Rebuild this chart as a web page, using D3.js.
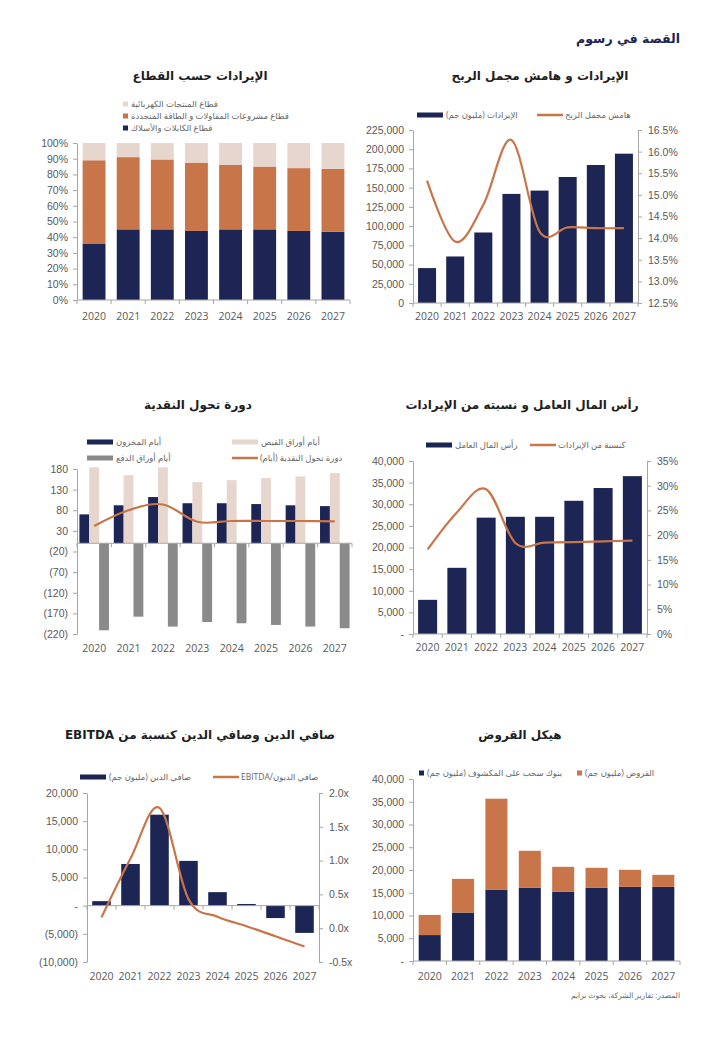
<!DOCTYPE html>
<html>
<head>
	<title>index</title>
	<meta charset="utf-8">
	<script src="https://d3js.org/d3.v7.min.js" charset="utf-8"></script>
	<style>
		body { margin:0; background:#fff; }
		svg { display:block; font-family:"Open Sans","DejaVu Sans",sans-serif; }
		.tick text { fill:#595959; font-size:10.5px; }
		.domain, .tick line { stroke:#a6a6a6; }
		.lg { fill:#666; font-size:8.5px; }
		.ttl { fill:#1f1f1f; font-size:12px; font-weight:bold; font-family:"DejaVu Sans",sans-serif; }
	</style>
</head>
<body>
<script>

	var years = ["2020","2021","2022","2023","2024","2025","2026","2027"];

	// panel 1 - revenue by sector (share)
	var segCables = [0.36,0.45,0.45,0.44,0.45,0.45,0.44,0.435];
	var segProjects = [0.53,0.46,0.445,0.435,0.41,0.40,0.40,0.40];
	var segElectric = [0.11,0.09,0.105,0.125,0.14,0.15,0.16,0.165];
	var pctTicks = [0,0.1,0.2,0.3,0.4,0.5,0.6,0.7,0.8,0.9,1];

	// panel 2 - revenue and gross margin
	var revenue = [45400,60500,91700,141900,146200,163900,179500,194200];
	var grossMargin = [15.33,13.92,14.77,16.27,14.15,14.25,14.23,14.23];
	var revTicks = [0,25000,50000,75000,100000,125000,150000,175000,200000,225000];
	var gmTicks = [12.5,13,13.5,14,14.5,15,15.5,16,16.5];

	// panel 3 - cash conversion cycle
	var invDays = [70,92,112,97,97,95,92,90];
	var recDays = [184,165,184,148,153,158,162,170];
	var payDays = [-211,-178,-202,-191,-194,-198,-202,-206];
	var cccDays = [42,80,94,52,54,54,54,53];
	var cccTicks = [180,130,80,30,-20,-70,-120,-170,-220];

	// panel 4 - working capital
	var workCap = [7900,15300,26900,27100,27100,30800,33750,36500];
	var wcPct = [17.1,24.6,29.3,18.4,18.5,18.6,18.75,18.9];
	var wcTicks = [0,5000,10000,15000,20000,25000,30000,35000,40000];
	var wcPctTicks = [0,5,10,15,20,25,30,35];

	// panel 5 - net debt
	var netDebt = [800,7400,16150,7950,2400,300,-2200,-4830];
	var ndEbitda = [0.16,1.03,1.78,0.43,0.17,0.03,-0.12,-0.27];
	var ndTicks = [-10000,-5000,0,5000,10000,15000,20000];
	var ndxTicks = [-0.5,0,0.5,1,1.5,2];

	// panel 6 - debt structure
	var overdraft = [5700,10650,15630,16070,15190,16070,16290,16290];
	var loans = [4430,7400,20040,8150,5510,4410,3750,2650];
	var debtTicks = [0,5000,10000,15000,20000,25000,30000,35000,40000];

	var navy = "#1c2553", orange = "#c8754a", beige = "#e6d6cd", gray = "#8a8a8a";

	var svg = d3.select("body").append("svg").attr("width",720).attr("height",1040);

	svg.append("text").attr("x",680).attr("y",43).attr("direction","rtl").attr("text-anchor","start")
		.attr("font-size","12.5px").attr("font-weight","bold").attr("fill",navy)
		.attr("font-family","DejaVu Sans,sans-serif").text("القصة في رسوم");

	function title(x, y, t) {
		svg.append("text").attr("class","ttl").attr("x",x).attr("y",y)
			.attr("direction","rtl").attr("text-anchor","middle").text(t);
	}

	function xBand(x0, x1, pad) {
		return d3.scaleBand().domain(years).range([x0,x1]).paddingInner(pad).paddingOuter(pad/2);
	}

	function xAxis(x, y0, labelY) {
		var g = svg.append("g");
		var r = x.range();
		g.append("line").attr("x1",r[0]).attr("x2",r[1]).attr("y1",y0).attr("y2",y0).attr("stroke","#a6a6a6");
		var edges = years.map(function(d) { return x(d) - x.step()*x.paddingInner()/2; });
		edges.push(r[1]);
		g.selectAll(".bt").data(edges).enter().append("line")
			.attr("x1",function(d){return d;}).attr("x2",function(d){return d;})
			.attr("y1",y0).attr("y2",y0+4).attr("stroke","#a6a6a6");
		g.selectAll(".xl").data(years).enter().append("text")
			.attr("x",function(d){return x(d)+x.bandwidth()/2;}).attr("y",labelY)
			.attr("text-anchor","middle").attr("fill","#595959").attr("font-size","10.5px")
			.text(function(d){return d;});
	}

	function yLeft(y, xPos, ticks, fmt) {
		svg.append("g").attr("transform","translate("+xPos+",0)")
			.call(d3.axisLeft(y).tickValues(ticks).tickFormat(fmt).tickSize(4).tickSizeOuter(0).tickPadding(5));
	}
	function yRight(y, xPos, ticks, fmt) {
		svg.append("g").attr("transform","translate("+xPos+",0)")
			.call(d3.axisRight(y).tickValues(ticks).tickFormat(fmt).tickSize(4).tickSizeOuter(0).tickPadding(6));
	}

	// legend text is rtl, anchored by its left edge
	function legText(x, y, t, fs) {
		var tx = svg.append("text").attr("class","lg").attr("x",x).attr("y",y)
			.attr("direction","rtl").attr("text-anchor","end").text(t);
		if (fs) tx.attr("font-size",fs);
	}
	function legRect(x, y, w, h, col, t, fs) {
		svg.append("rect").attr("x",x).attr("y",y-h/2).attr("width",w).attr("height",h).attr("fill",col);
		legText(x+w+3, y+3, t, fs);
	}
	function legLine(x, y, w, col, t) {
		svg.append("line").attr("x1",x).attr("x2",x+w).attr("y1",y).attr("y2",y)
			.attr("stroke",col).attr("stroke-width",2.5);
		legText(x+w+2, y+3, t);
	}

	function smoothLine(x, y, vals) {
		var line = d3.line().curve(d3.curveCardinal.tension(0))
			.x(function(d,i){ return x(years[i]) + x.bandwidth()/2; })
			.y(function(d){ return y(d); });
		svg.append("path").attr("d",line(vals)).attr("fill","none")
			.attr("stroke",orange).attr("stroke-width",2.2);
	}

	var thousands = d3.format(",");
	function dashZero(d) { return d === 0 ? "-" : (d < 0 ? "(" + thousands(-d) + ")" : thousands(d)); }

	// ---------- panel 1 ----------
	(function() {
		title(200, 80, "الإيرادات حسب القطاع");
		var x = xBand(77, 350, 0.33);
		var y = d3.scaleLinear().domain([0,1]).range([300,143]);
		var stack = years.map(function(d,i){ return {year:d, a:segCables[i], b:segProjects[i], c:segElectric[i]}; });
		var series = d3.stack().keys(["a","b","c"])(stack);
		var cols = [navy, orange, beige];
		series.forEach(function(s, k) {
			svg.selectAll(".s1"+k).data(s).enter().append("rect")
				.attr("x",function(d){return x(d.data.year);}).attr("width",x.bandwidth())
				.attr("y",function(d){return y(Math.min(d[1],1));})
				.attr("height",function(d){return y(d[0]) - y(Math.min(d[1],1));})
				.attr("fill",cols[k]);
		});
		yLeft(y, 77, pctTicks, d3.format(".0%"));
		xAxis(x, 300, 320);
		legRect(123, 104, 5, 5, beige, "قطاع المنتجات الكهربائية", "7.6px");
		legRect(123, 116, 5, 5, orange, "قطاع مشروعات المقاولات و الطاقة المتجددة", "7.6px");
		legRect(123, 128, 5, 5, navy, "قطاع الكابلات والأسلاك", "7.6px");
	})();

	// ---------- panel 2 ----------
	(function() {
		title(540, 80, "الإيرادات و هامش مجمل الربح");
		var x = xBand(413, 638, 0.36);
		var y = d3.scaleLinear().domain([0,225000]).range([303,130]);
		var y2 = d3.scaleLinear().domain([12.5,16.5]).range([303,130]);
		svg.selectAll(".b2").data(revenue).enter().append("rect")
			.attr("x",function(d,i){return x(years[i]);}).attr("width",x.bandwidth())
			.attr("y",function(d){return y(d);}).attr("height",function(d){return y(0)-y(d);})
			.attr("fill",navy);
		smoothLine(x, y2, grossMargin);
		yLeft(y, 413, revTicks, thousands);
		yRight(y2, 638, gmTicks, function(d){ return d.toFixed(1)+"%"; });
		xAxis(x, 303, 320);
		legRect(417, 115, 26, 5, navy, "الإيرادات (مليون جم)");
		legLine(537, 115, 26, orange, "هامش مجمل الربح");
	})();

	// ---------- panel 3 ----------
	(function() {
		title(198, 409, "دورة تحول النقدية");
		var x = xBand(77, 352, 0.14);
		var y = d3.scaleLinear().domain([-220,180]).range([634,469]);
		var sub = d3.scaleBand().domain(["inv","rec","pay"]).range([0, x.bandwidth()]);
		var groups = [["inv",invDays,navy],["rec",recDays,beige],["pay",payDays,gray]];
		groups.forEach(function(g) {
			svg.selectAll(".b3"+g[0]).data(g[1]).enter().append("rect")
				.attr("x",function(d,i){return x(years[i]) + sub(g[0]);}).attr("width",sub.bandwidth())
				.attr("y",function(d){return y(Math.max(d,0));})
				.attr("height",function(d){return Math.abs(y(d)-y(0));})
				.attr("fill",g[2]);
		});
		smoothLine(x, y, cccDays);
		yLeft(y, 77, cccTicks, function(d){ return d < 0 ? "(" + (-d) + ")" : d; });
		xAxis(x, y(0), 652);
		legRect(87, 442, 26, 5, navy, "أيام المخزون");
		legRect(232, 442, 26, 5, beige, "أيام أوراق القبض");
		legRect(87, 458, 26, 5, gray, "أيام أوراق الدفع");
		legLine(232, 458, 26, orange, "دورة تحول النقدية (أيام)");
	})();

	// ---------- panel 4 ----------
	(function() {
		title(522, 409, "رأس المال العامل و نسبته من الإيرادات");
		var x = xBand(413, 647, 0.35);
		var y = d3.scaleLinear().domain([0,40000]).range([634,461]);
		var y2 = d3.scaleLinear().domain([0,35]).range([634,461]);
		svg.selectAll(".b4").data(workCap).enter().append("rect")
			.attr("x",function(d,i){return x(years[i]);}).attr("width",x.bandwidth())
			.attr("y",function(d){return y(d);}).attr("height",function(d){return y(0)-y(d);})
			.attr("fill",navy);
		smoothLine(x, y2, wcPct);
		yLeft(y, 413, wcTicks, dashZero);
		yRight(y2, 647, wcPctTicks, function(d){ return d+"%"; });
		xAxis(x, 634, 651);
		legRect(426, 445, 26, 5, navy, "رأس المال العامل");
		legLine(530, 445, 26, orange, "كنسبة من الإيرادات");
	})();

	// ---------- panel 5 ----------
	(function() {
		title(200, 739, "صافي الدين وصافي الدين كنسبة من EBITDA");
		var x = xBand(87, 319, 0.36);
		var y = d3.scaleLinear().domain([-10000,20000]).range([962,793]);
		var y2 = d3.scaleLinear().domain([-0.5,2]).range([962,793]);
		svg.selectAll(".b5").data(netDebt).enter().append("rect")
			.attr("x",function(d,i){return x(years[i]);}).attr("width",x.bandwidth())
			.attr("y",function(d){return y(Math.max(d,0));})
			.attr("height",function(d){return Math.abs(y(d)-y(0));})
			.attr("fill",navy);
		yLeft(y, 87, ndTicks, dashZero);
		yRight(y2, 319, ndxTicks, function(d){ return d.toFixed(1)+"x"; });
		xAxis(x, y(0), 980);
		smoothLine(x, y2, ndEbitda);
		legRect(80, 777, 26, 5, navy, "صافي الدين (مليون جم)");
		legLine(213, 777, 26, orange, "صافي الديون/EBITDA");
	})();

	// ---------- panel 6 ----------
	(function() {
		title(520, 739, "هيكل القروض");
		var x = xBand(413, 680, 0.34);
		var y = d3.scaleLinear().domain([0,40000]).range([961,779]);
		var stack = years.map(function(d,i){ return {year:d, a:overdraft[i], b:loans[i]}; });
		var series = d3.stack().keys(["a","b"])(stack);
		var cols = [navy, orange];
		series.forEach(function(s, k) {
			svg.selectAll(".s6"+k).data(s).enter().append("rect")
				.attr("x",function(d){return x(d.data.year);}).attr("width",x.bandwidth())
				.attr("y",function(d){return y(d[1]);})
				.attr("height",function(d){return y(d[0]) - y(d[1]);})
				.attr("fill",cols[k]);
		});
		yLeft(y, 413, debtTicks, dashZero);
		xAxis(x, 961, 980);
		legRect(419, 773, 5, 5, navy, "بنوك سحب على المكشوف (مليون جم)");
		legRect(577, 773, 5, 5, orange, "القروض (مليون جم)");
		svg.append("text").attr("x",680).attr("y",998).attr("direction","rtl").attr("text-anchor","start")
			.attr("fill","#666").attr("font-size","7.5px").text("المصدر: تقارير الشركة، بحوث برايم");
	})();

</script>
</body>
</html>
